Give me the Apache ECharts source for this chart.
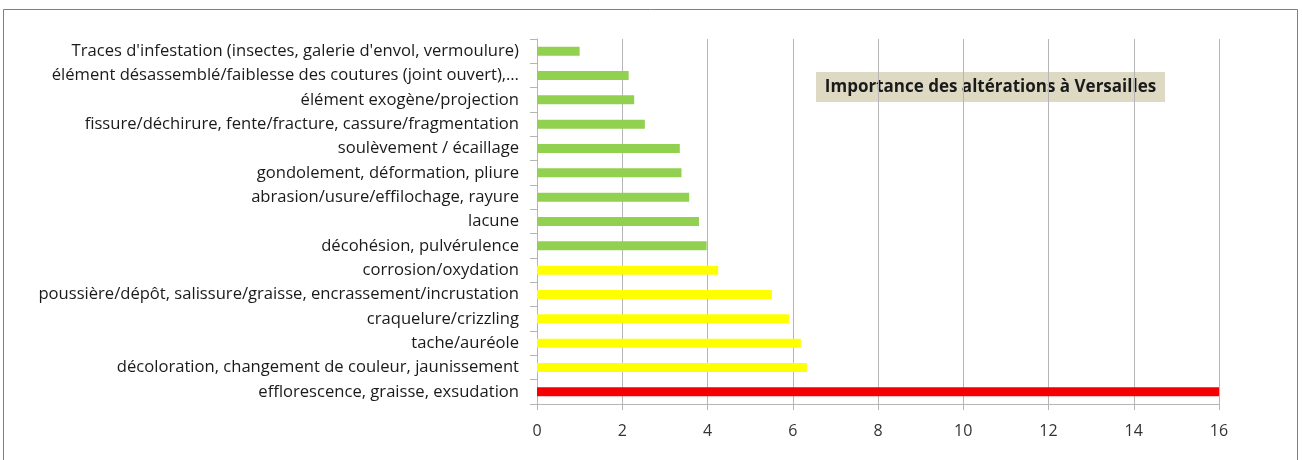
<!DOCTYPE html>
<html>
<head>
<meta charset="utf-8">
<script src="https://cdn.jsdelivr.net/npm/echarts@6/dist/echarts.min.js"></script>
<style>
    html, body { margin: 0; padding: 0; background: #fff; }
    #chart { width: 1302px; height: 460px; }
</style>
</head>
<body>
<div id="chart"></div>
<script>
var categories = [
    "Traces d'infestation (insectes, galerie d'envol, vermoulure)",
    'élément désassemblé/faiblesse des coutures (joint ouvert),…',
    'élément exogène/projection',
    'fissure/déchirure, fente/fracture, cassure/fragmentation',
    'soulèvement / écaillage',
    'gondolement, déformation, pliure',
    'abrasion/usure/effilochage, rayure',
    'lacune',
    'décohésion, pulvérulence',
    'corrosion/oxydation',
    'poussière/dépôt, salissure/graisse, encrassement/incrustation',
    'craquelure/crizzling',
    'tache/auréole',
    'décoloration, changement de couleur, jaunissement',
    'efflorescence, graisse, exsudation'
];
var values = [1, 2.15, 2.28, 2.53, 3.35, 3.39, 3.57, 3.8, 3.98, 4.25, 5.51, 5.91, 6.19, 6.33, 16];
var xTicks = [0, 2, 4, 6, 8, 10, 12, 14, 16];

var chartTitle = 'Importance des altérations à Versailles';

function barColor(v) {
    if (v > 10) return '#f50000';
    if (v > 4.1) return '#ffff00';
    return '#92d050';
}

var myChart = echarts.init(document.getElementById('chart'));

var option = {
    animation: false,
    textStyle: { fontFamily: 'Open Sans' },
    grid: { left: 537, right: 83, top: 39, bottom: 56 },
    graphic: [
        {
            type: 'rect',
            shape: { x: 3.5, y: 9.5, width: 1294, height: 460 },
            style: { fill: null, stroke: '#7f7f7f', lineWidth: 1 },
            z: -1
        },
        {
            type: 'group',
            left: 816, top: 72,
            children: [
                {
                    type: 'rect',
                    shape: { x: 0, y: 0, width: 349, height: 30 },
                    style: { fill: '#ddd9c3' }
                },
                {
                    type: 'text',
                    x: 174.5, y: 15,
                    style: {
                        text: chartTitle,
                        fill: '#1a1a1a',
                        font: 'bold 17px "Open Sans"',
                        align: 'center',
                        verticalAlign: 'middle'
                    }
                }
            ]
        }
    ],
    xAxis: {
        type: 'value',
        min: 0,
        max: 16,
        interval: 2,
        axisLine: { show: true, lineStyle: { color: '#b5b5b5' } },
        axisTick: { show: true, length: 6, lineStyle: { color: '#b5b5b5' } },
        axisLabel: {
            color: '#333',
            fontSize: 16,
            margin: 19,
            formatter: function (v) { return xTicks.indexOf(v) >= 0 ? String(v) : ''; }
        },
        splitLine: { show: true, lineStyle: { color: '#b5b5b5' } }
    },
    yAxis: {
        type: 'category',
        inverse: true,
        data: categories,
        axisLine: { show: true, lineStyle: { color: '#b5b5b5' } },
        axisTick: { show: true, length: 7, lineStyle: { color: '#b5b5b5' } },
        axisLabel: { color: '#1a1a1a', fontSize: 16.6, margin: 18 }
    },
    series: [
        {
            type: 'bar',
            data: values,
            barWidth: 9,
            itemStyle: {
                color: function (p) { return barColor(p.value); }
            }
        }
    ]
};

option && myChart.setOption(option);
</script>
</body>
</html>
